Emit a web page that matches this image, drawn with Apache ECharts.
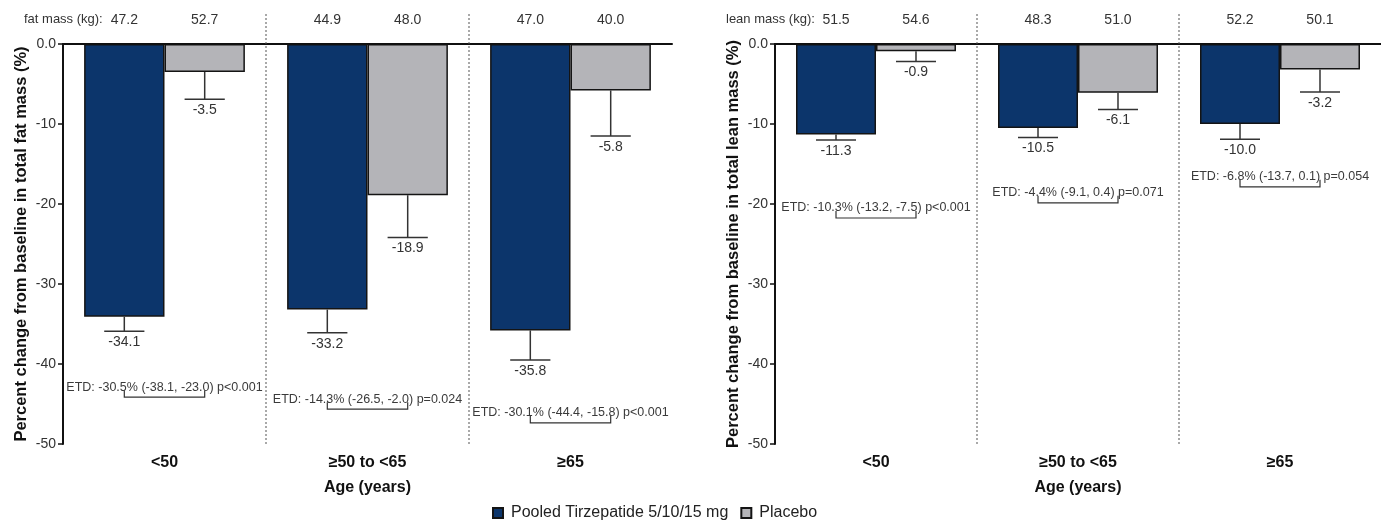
<!DOCTYPE html>
<html>
<head>
<meta charset="utf-8">
<title>Fat and lean mass change by age</title>
<script src="https://cdn.jsdelivr.net/npm/echarts@6/dist/echarts.min.js"></script>
<style>
html, body { margin: 0; padding: 0; background: #fff; }
#main { width: 1381px; height: 520px; }
</style>
</head>
<body>
<div id="main"></div>
<script>
var ageGroups = ['<50', '≥50 to <65', '≥65'];
var seriesNames = ['Pooled Tirzepatide 5/10/15 mg', 'Placebo'];

// total fat mass, % change from baseline
var fatTirz = [-34.1, -33.2, -35.8];
var fatTirzLow = [-35.9, -36.1, -39.5];
var fatPbo = [-3.5, -18.9, -5.8];
var fatPboLow = [-6.9, -24.2, -11.5];
var fatKgTirz = ['47.2', '44.9', '47.0'];
var fatKgPbo = ['52.7', '48.0', '40.0'];
var fatEtd = [
  'ETD: -30.5% (-38.1, -23.0) p<0.001',
  'ETD: -14.3% (-26.5, -2.0) p=0.024',
  'ETD: -30.1% (-44.4, -15.8) p<0.001'
];
var fatEtdAt = [-42.9, -44.4, -46.1]; // where the ETD note sits, in % units

// total lean mass, % change from baseline
var leanTirz = [-11.3, -10.5, -10.0];
var leanTirzLow = [-12.0, -11.7, -11.9];
var leanPbo = [-0.9, -6.1, -3.2];
var leanPboLow = [-2.2, -8.2, -6.0];
var leanKgTirz = ['51.5', '48.3', '52.2'];
var leanKgPbo = ['54.6', '51.0', '50.1'];
var leanEtd = [
  'ETD: -10.3% (-13.2, -7.5) p<0.001',
  'ETD: -4.4% (-9.1, 0.4) p=0.071',
  'ETD: -6.8% (-13.7, 0.1) p=0.054'
];
var leanEtdAt = [-20.5, -18.6, -16.6];

var FONT = 'Liberation Sans, Arial, sans-serif';
var BAR_W = 0.396;

// error bars, value labels, kg labels, ETD notes and dotted dividers
function overlay (d) {
  return function (params, api) {
    var i = api.value(0);
    var c = api.coord([i, 0]);
    var band = api.size([1, 0])[0];
    var bw = band * BAR_W;
    var xs = [c[0] - bw / 2, c[0] + bw / 2];
    var means = [d.tirz[i], d.pbo[i]];
    var lows = [d.tirzLow[i], d.pboLow[i]];
    var kg = [d.kgTirz[i], d.kgPbo[i]];
    var kids = [];
    for (var k = 0; k < 2; k++) {
      var y0 = api.coord([i, means[k]])[1];
      var y1 = api.coord([i, lows[k]])[1];
      kids.push({ type: 'line', shape: { x1: xs[k], y1: y0, x2: xs[k], y2: y1 },
        style: { stroke: '#333', lineWidth: 1.5 } });
      kids.push({ type: 'line', shape: { x1: xs[k] - bw / 4, y1: y1, x2: xs[k] + bw / 4, y2: y1 },
        style: { stroke: '#333', lineWidth: 1.5 } });
      kids.push({ type: 'text', x: xs[k], y: y1 + 11,
        style: { text: means[k].toFixed(1), fill: '#333', fontSize: 14, fontFamily: FONT, align: 'center', verticalAlign: 'middle' } });
      kids.push({ type: 'text', x: xs[k], y: c[1] - 24,
        style: { text: kg[k], fill: '#333', fontSize: 14, fontFamily: FONT, align: 'center', verticalAlign: 'middle' } });
    }
    var ey = api.coord([i, d.etdAt[i]])[1];
    kids.push({ type: 'text', x: c[0], y: ey,
      style: { text: d.etd[i], fill: '#3a3a3a', fontSize: 12.5, fontFamily: FONT, align: 'center', verticalAlign: 'middle' } });
    kids.push({ type: 'polyline',
      shape: { points: [[xs[0], ey + 3], [xs[0], ey + 10], [xs[1], ey + 10], [xs[1], ey + 3]] },
      style: { stroke: '#333', fill: null, lineWidth: 1.2 } });
    if (i < ageGroups.length - 1) {
      var xd = c[0] + band / 2;
      var yb = api.coord([i, -50])[1];
      kids.push({ type: 'line', shape: { x1: xd, y1: yb, x2: xd, y2: c[1] - 31 },
        style: { stroke: '#555', lineWidth: 1, lineDash: [2, 2] } });
    }
    return { type: 'group', children: kids };
  };
}

function xAxisOf (gi) {
  return {
    type: 'category',
    gridIndex: gi,
    data: ageGroups,
    name: 'Age (years)',
    nameLocation: 'middle',
    nameGap: 36,
    nameTextStyle: { fontSize: 16, fontWeight: 'bold', color: '#111', fontFamily: FONT },
    axisLine: { lineStyle: { color: '#111', width: 2 } },
    axisTick: { alignWithLabel: true, length: 6, lineStyle: { color: '#111', width: 1.5 } },
    axisLabel: { margin: 11, fontSize: 16, fontWeight: 'bold', color: '#111', fontFamily: FONT },
    splitLine: { show: false }
  };
}

function yAxisOf (gi, name) {
  return {
    type: 'value',
    gridIndex: gi,
    min: -50,
    max: 0,
    interval: 10,
    name: name,
    nameLocation: 'middle',
    nameGap: 33,
    nameTextStyle: { fontSize: 16.5, fontWeight: 'bold', color: '#111', fontFamily: FONT },
    axisLine: { show: true, lineStyle: { color: '#111', width: 2 } },
    axisTick: { show: true, length: 5, lineStyle: { color: '#111', width: 1.5 } },
    axisLabel: {
      margin: 7, fontSize: 14, color: '#333', fontFamily: FONT,
      formatter: function (v) { return v === 0 ? '0.0' : String(v) }
    },
    splitLine: { show: false }
  };
}

function barOf (gi, name, values, color, zeroLine) {
  var s = {
    type: 'bar',
    name: name,
    xAxisIndex: gi,
    yAxisIndex: gi,
    data: values,
    barWidth: (BAR_W * 100) + '%',
    barGap: '0%',
    itemStyle: { color: color, borderColor: '#141414', borderWidth: 1.5 },
    silent: true
  };
  if (zeroLine) {
    s.markLine = {
      silent: true,
      symbol: 'none',
      label: { show: false },
      lineStyle: { color: '#111', width: 1.5, type: 'solid' },
      data: [{ yAxis: 0 }]
    };
  }
  return s;
}

function overlayOf (gi, d) {
  return {
    type: 'custom',
    xAxisIndex: gi,
    yAxisIndex: gi,
    clip: false,
    silent: true,
    z: 5,
    encode: { x: 0, y: 1 },
    data: ageGroups.map(function (g, i) { return [i, 0] }),
    renderItem: overlay(d)
  };
}

var fat = { tirz: fatTirz, tirzLow: fatTirzLow, pbo: fatPbo, pboLow: fatPboLow,
  kgTirz: fatKgTirz, kgPbo: fatKgPbo, etd: fatEtd, etdAt: fatEtdAt };
var lean = { tirz: leanTirz, tirzLow: leanTirzLow, pbo: leanPbo, pboLow: leanPboLow,
  kgTirz: leanKgTirz, kgPbo: leanKgPbo, etd: leanEtd, etdAt: leanEtdAt };

var TIRZ = '#0c356b';
var PBO = '#b4b4b8';

var chart = echarts.init(document.getElementById('main'));
chart.setOption({
  backgroundColor: '#fff',
  animation: false,
  textStyle: { fontFamily: FONT },
  grid: [
    { left: 63, top: 44, width: 609, bottom: 76 },
    { left: 775, top: 44, width: 606, bottom: 76 }
  ],
  legend: {
    data: seriesNames,
    left: 487,
    top: 500,
    icon: 'rect',
    itemWidth: 10,
    itemHeight: 10,
    itemGap: 12,
    textStyle: { fontSize: 16, color: '#222', fontFamily: FONT, padding: [0, 0, 0, 3] }
  },
  graphic: [
    { type: 'text', left: 24, top: 13, style: { text: 'fat mass (kg):', fill: '#333', fontSize: 13, fontFamily: FONT } },
    { type: 'text', left: 726, top: 13, style: { text: 'lean mass (kg):', fill: '#333', fontSize: 13, fontFamily: FONT } }
  ],
  xAxis: [xAxisOf(0), xAxisOf(1)],
  yAxis: [
    yAxisOf(0, 'Percent change from baseline in total fat mass (%)'),
    yAxisOf(1, 'Percent change from baseline in total lean mass (%)')
  ],
  series: [
    barOf(0, seriesNames[0], fatTirz, TIRZ, true),
    barOf(0, seriesNames[1], fatPbo, PBO, false),
    overlayOf(0, fat),
    barOf(1, seriesNames[0], leanTirz, TIRZ, true),
    barOf(1, seriesNames[1], leanPbo, PBO, false),
    overlayOf(1, lean)
  ]
});
</script>
</body>
</html>
